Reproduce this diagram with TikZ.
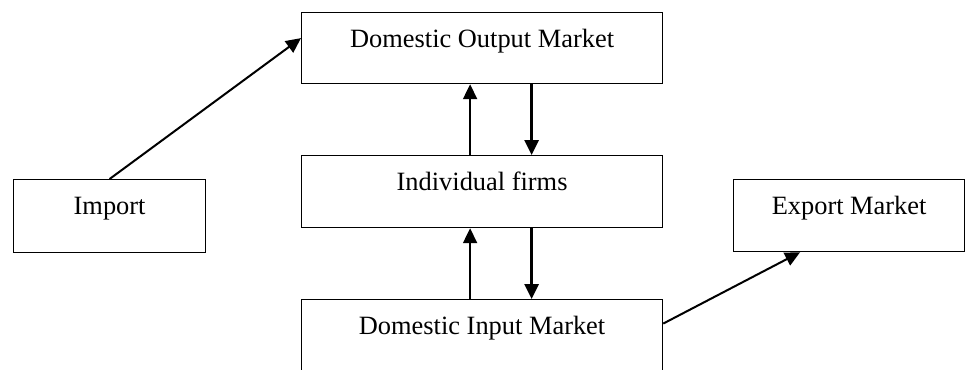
\documentclass[tikz,border=0pt]{standalone}
\usepackage{fontspec}
\setmainfont{Liberation Serif}
\usetikzlibrary{arrows.meta}
\begin{document}
\begin{tikzpicture}[x=1pt,y=-1pt,
  box/.style={draw,line width=1.2pt,anchor=north west,inner xsep=0pt,inner ysep=0pt,
    text height=35pt,font=\fontsize{26.4}{30}\selectfont},
  arr/.style={line width=2pt,-{Triangle[length=15pt,width=14pt]}},
  darr/.style={line width=2.7pt,-{Triangle[length=15pt,width=14pt]}}]
\useasboundingbox (0,0) rectangle (965,369);
\node[box,minimum width=361pt,text depth=36pt] (out) at (301,12) {Domestic Output Market};
\node[box,minimum width=361pt,text depth=37pt] (firms) at (301,155) {Individual firms};
\node[box,minimum width=361pt,text depth=37pt] (inp) at (301,299) {Domestic Input Market};
\node[box,minimum width=192pt,text depth=38pt] (imp) at (13,179) {Import};
\node[box,minimum width=231pt,text depth=37pt] (exp) at (733,179) {Export Market};
\draw[arr] ([xshift=-12pt]firms.north) -- ([xshift=-12pt]out.south);
\draw[darr] ([xshift=49.5pt]out.south) -- ([xshift=49.5pt]firms.north);
\draw[arr] ([xshift=-12pt]inp.north) -- ([xshift=-12pt]firms.south);
\draw[darr] ([xshift=49.5pt]firms.south) -- ([xshift=49.5pt]inp.north);
\draw[arr] (imp.north) -- ([yshift=10pt]out.west);
\draw[arr] ([yshift=12pt]inp.east) -- ([xshift=-49pt]exp.south);
\end{tikzpicture}
\end{document}
